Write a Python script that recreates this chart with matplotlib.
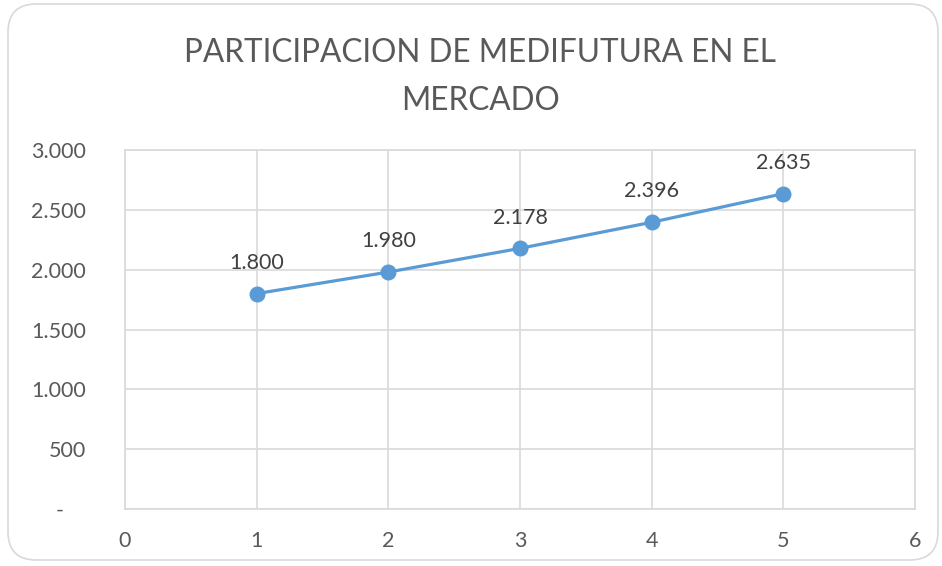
import matplotlib.pyplot as plt
from matplotlib.patches import FancyBboxPatch
from matplotlib.ticker import FuncFormatter

plt.rcParams['font.family'] = ['Lato', 'DejaVu Sans']

# data
years = [1, 2, 3, 4, 5]
participacion = [1800, 1980, 2178, 2396, 2635]
value_labels = ['1.800', '1.980', '2.178', '2.396', '2.635']

text_color = '#595959'
grid_color = '#D9D9D9'
line_color = '#5B9BD5'

fig = plt.figure(figsize=(9.42, 5.66), dpi=100)

# chart border
border = FancyBboxPatch((8 / 942, 6 / 566), 930 / 942, 556 / 566,
                        boxstyle='round,pad=0,rounding_size=0.03',
                        transform=fig.transFigure, fill=False,
                        edgecolor='#D9D9D9', linewidth=1.2, mutation_aspect=942 / 566)
fig.patches.append(border)

ax = fig.add_axes([125 / 942, 57 / 566, 790 / 942, 359 / 566])

ax.plot(years, participacion, color=line_color, linewidth=2.3, marker='o',
        markersize=10.5, zorder=3)
for x, y, lab in zip(years, participacion, value_labels):
    ax.annotate(lab, (x, y), xytext=(0, 15), textcoords='offset points',
                ha='center', va='bottom', fontsize=15.5, color='#404040')

ax.set_xlim(0, 6)
ax.set_ylim(0, 3000)
ax.set_xticks(range(0, 7))
ax.set_yticks(range(0, 3001, 500))


def fmt_y(v, pos):
    if v == 0:
        return '-    '
    return f'{int(v):,}'.replace(',', '.')


ax.yaxis.set_major_formatter(FuncFormatter(fmt_y))
ax.grid(True, color=grid_color, linewidth=1.2)
ax.set_axisbelow(True)
for s in ax.spines.values():
    s.set_color(grid_color)
    s.set_linewidth(1.2)
ax.tick_params(length=0, labelsize=15.5, labelcolor=text_color)
ax.tick_params(axis='x', pad=16)
ax.tick_params(axis='y', pad=28)
for lab in ax.get_yticklabels():
    lab.set_horizontalalignment('right')

fig.text(480 / 942, 1 - 77 / 566, 'PARTICIPACION DE MEDIFUTURA EN EL\nMERCADO',
         ha='center', va='center', fontsize=22.7, color=text_color, linespacing=1.75)

fig.savefig('out.png', dpi=100)
